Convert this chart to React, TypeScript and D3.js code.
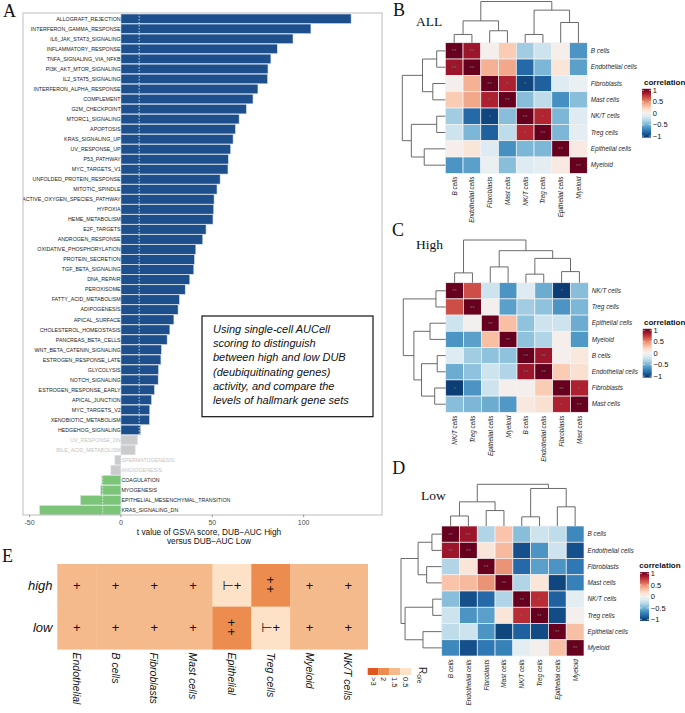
import * as d3 from "d3";
import * as React from "react";

// ---------------- Panel A: GSVA t values ----------------
const upPathways = [
  "ALLOGRAFT_REJECTION", "INTERFERON_GAMMA_RESPONSE", "IL6_JAK_STAT3_SIGNALING", "INFLAMMATORY_RESPONSE",
  "TNFA_SIGNALING_VIA_NFKB", "PI3K_AKT_MTOR_SIGNALING", "IL2_STAT5_SIGNALING", "INTERFERON_ALPHA_RESPONSE",
  "COMPLEMENT", "G2M_CHECKPOINT", "MTORC1_SIGNALING", "APOPTOSIS", "KRAS_SIGNALING_UP", "UV_RESPONSE_UP",
  "P53_PATHWAY", "MYC_TARGETS_V1", "UNFOLDED_PROTEIN_RESPONSE", "MITOTIC_SPINDLE",
  "REACTIVE_OXYGEN_SPECIES_PATHWAY", "HYPOXIA", "HEME_METABOLISM", "E2F_TARGETS", "ANDROGEN_RESPONSE",
  "OXIDATIVE_PHOSPHORYLATION", "PROTEIN_SECRETION", "TGF_BETA_SIGNALING", "DNA_REPAIR", "PEROXISOME",
  "FATTY_ACID_METABOLISM", "ADIPOGENESIS", "APICAL_SURFACE", "CHOLESTEROL_HOMEOSTASIS",
  "PANCREAS_BETA_CELLS", "WNT_BETA_CATENIN_SIGNALING", "ESTROGEN_RESPONSE_LATE", "GLYCOLYSIS",
  "NOTCH_SIGNALING", "ESTROGEN_RESPONSE_EARLY", "APICAL_JUNCTION", "MYC_TARGETS_V2",
  "XENOBIOTIC_METABOLISM", "HEDGEHOG_SIGNALING",
];
const upValues = [
  126, 104, 94.2, 85.6, 82.1, 80.5, 80.3, 75.0, 72.3, 68.7, 64.7, 62.7, 61.4, 60.1, 58.8, 58.6, 54.3,
  52.6, 51.0, 50.8, 50.4, 46.6, 44.8, 41.0, 40.3, 39.9, 37.7, 35.2, 32.1, 31.3, 29.0, 26.8, 25.3, 22.2,
  21.9, 20.6, 20.4, 18.4, 16.8, 15.8, 15.7, 10.8,
];
const nsPathways = ["UV_RESPONSE_DN", "BILE_ACID_METABOLISM", "SPERMATOGENESIS", "ANGIOGENESIS"];
const nsValues = [9.1, 7.8, -3.3, -5.5];
const downPathways = ["COAGULATION", "MYOGENESIS", "EPITHELIAL_MESENCHYMAL_TRANSITION", "KRAS_SIGNALING_DN"];
const downValues = [-10.5, -11.1, -22.2, -44.6];
const xTicksA = [-50, 0, 50, 100];
const cutoffs = [-10, 10];
const noteLines = [
  "Using single-cell AUCell",
  "scoring to distinguish",
  "between high and low DUB",
  "(deubiquitinating genes)",
  "activity, and compare the",
  "levels of hallmark gene sets",
];

// ---------------- Panels B-D: correlation heatmaps ----------------
type Tree = number | { h: number; c: [Tree, Tree] };

const cellsAll = ["B cells", "Endothelial cells", "Fibroblasts", "Mast cells", "NK/T cells", "Treg cells", "Epithelial cells", "Myeloid"];
const corrAll = [
  [1, 0.85, 0.02, 0.25, -0.35, -0.2, 0.03, -0.6],
  [0.85, 1, 0.35, 0.38, -0.78, -0.45, 0.12, -0.55],
  [0.02, 0.35, 1, 0.8, -0.92, -0.82, -0.12, -0.06],
  [0.25, 0.38, 0.8, 1, -0.42, -0.25, -0.62, -0.42],
  [-0.35, -0.78, -0.92, -0.42, 1, 0.78, -0.45, -0.12],
  [-0.2, -0.45, -0.82, -0.25, 0.78, 1, -0.45, -0.1],
  [0.03, 0.12, -0.12, -0.62, -0.45, -0.45, 1, 0.08],
  [-0.6, -0.55, -0.06, -0.42, -0.12, -0.1, 0.08, 1],
];
const starsAll: [number, number, string][] = [[0, 1, "**"], [2, 3, "*"], [2, 4, "*"], [4, 5, "*"]];
const treeAll: Tree = { h: 1, c: [
  { h: 0.53, c: [{ h: 0.2, c: [0, 1] }, { h: 0.29, c: [2, 3] }] },
  { h: 0.79, c: [{ h: 0.2, c: [4, 5] }, { h: 0.49, c: [6, 7] }] },
] };

const cellsHigh = ["NK/T cells", "Treg cells", "Epithelial cells", "Myeloid", "B cells", "Endothelial cells", "Fibroblasts", "Mast cells"];
const corrHigh = [
  [1, 0.65, -0.2, -0.6, -0.12, -0.5, -0.95, -0.42],
  [0.65, 1, 0.0, -0.55, -0.35, -0.4, -0.6, -0.45],
  [-0.2, 0.0, 1, 0.3, -0.4, -0.2, -0.2, -0.5],
  [-0.6, -0.55, 0.3, 1, -0.4, -0.3, 0.03, -0.58],
  [-0.12, -0.35, -0.4, -0.4, 1, 0.85, 0.02, 0.1],
  [-0.5, -0.4, -0.2, -0.3, 0.85, 1, 0.25, 0.15],
  [-0.95, -0.6, -0.2, 0.03, 0.02, 0.25, 1, 0.8],
  [-0.42, -0.45, -0.5, -0.58, 0.1, 0.15, 0.8, 1],
];
const starsHigh: [number, number, string][] = [[0, 6, "*"], [4, 5, "**"], [6, 7, "*"]];
const treeHigh: Tree = { h: 1, c: [
  { h: 0.23, c: [0, 1] },
  { h: 0.75, c: [{ h: 0.37, c: [2, 3] }, { h: 0.57, c: [{ h: 0.2, c: [4, 5] }, { h: 0.26, c: [6, 7] }] }] },
] };

const cellsLow = ["B cells", "Endothelial cells", "Fibroblasts", "Mast cells", "NK/T cells", "Treg cells", "Epithelial cells", "Myeloid"];
const corrLow = [
  [1, 0.85, -0.3, 0.28, -0.42, -0.2, -0.25, -0.65],
  [0.85, 1, 0.12, 0.32, -0.88, -0.6, -0.2, -0.88],
  [-0.3, 0.12, 1, 0.45, -0.78, -0.55, -0.6, -0.72],
  [0.28, 0.32, 0.45, 1, -0.3, 0.12, -0.92, -0.68],
  [-0.42, -0.88, -0.78, -0.3, 1, 0.75, -0.82, -0.1],
  [-0.2, -0.6, -0.55, 0.12, 0.75, 1, -0.9, 0.02],
  [-0.25, -0.2, -0.6, -0.92, -0.82, -0.9, 1, 0.3],
  [-0.65, -0.88, -0.72, -0.68, -0.1, 0.02, 0.3, 1],
];
const starsLow: [number, number, string][] = [[0, 1, "**"], [4, 5, "*"]];
const treeLow: Tree = { h: 1, c: [
  { h: 0.58, c: [{ h: 0.24, c: [0, 1] }, { h: 0.37, c: [2, 3] }] },
  { h: 0.9, c: [{ h: 0.22, c: [4, 5] }, { h: 0.46, c: [6, 7] }] },
] };

const legendTicks = [1, 0.5, 0, -0.5, -1];

// ---------------- Panel E: Ro/e ----------------
const eCellTypes = ["Endothelial", "B cells", "Fibroblasts", "Mast cells", "Epithelial", "Treg cells", "Myeloid", "NK/T cells"];
const eGroups = ["high", "low"];
const roeHigh = ["1.5", "1.5", "1.5", "1.5", "0.5", "2", "1.5", "1.5"];
const roeLow = ["1.5", "1.5", "1.5", "1.5", "2", "0.5", "1.5", "1.5"];
const roeLevels = [">3", "2", "1.5", "0.5"];
const roeColors = ["#e0581d", "#ed8c4f", "#f5ba8c", "#fde2c7"];
const roeMarks: Record<string, string> = { ">3": "+++", "2": "++", "1.5": "+", "0.5": "\u22a2+" };

const SANS = "'Liberation Sans', Arial, Helvetica, sans-serif";
const SERIF = "'Liberation Serif', 'Times New Roman', serif";
const corrColor = (v: number) => d3.interpolateRdBu((1 - v) / 2);
const fmt = (v: number) => (v < 0 ? "\u2212" + Math.abs(v) : String(v));

function PanelA() {
  const names = [...upPathways, ...nsPathways, ...downPathways];
  const values = [...upValues, ...nsValues, ...downValues];
  const groups = [
    ...upPathways.map(() => "up"),
    ...nsPathways.map(() => "ns"),
    ...downPathways.map(() => "down"),
  ];
  const fill: Record<string, string> = { up: "#1c4f8b", ns: "#cbcbcb", down: "#7cc477" };
  const left = 23, right = 382, top = 13, bottom = 515;
  const x = d3.scaleLinear().domain([-53.6, 142.9]).range([left, right]);
  const y = d3.scaleBand<string>().domain(names).range([14, 515]).paddingInner(0.04);
  const x0 = x(0);
  return (
    <g>
      <defs>
        <clipPath id="clipA">
          <rect x={left} y={top} width={right - left} height={bottom - top} />
        </clipPath>
      </defs>
      <g clipPath="url(#clipA)">
        {names.map((n, i) => {
          const v = values[i];
          return (
            <rect key={n} x={Math.min(x(v), x0)} y={y(n)!} width={Math.abs(x(v) - x0)} height={y.bandwidth()}
              fill={fill[groups[i]]} stroke="#dde6f1" strokeWidth={0.6} />
          );
        })}
        {cutoffs.map(c => (
          <line key={c} x1={x(c)} x2={x(c)} y1={top} y2={bottom} stroke="#ffffff" strokeWidth={0.7} strokeDasharray="1.6,1.4" />
        ))}
        {names.map((n, i) => {
          const v = values[i];
          const pos = v >= 0;
          return (
            <text key={n} x={pos ? x0 - 0.3 : x0 + 0.5} y={y(n)! + y.bandwidth() / 2} dy="0.35em"
              textAnchor={pos ? "end" : "start"} fontSize={5.3} fontFamily={SANS}
              fill={groups[i] === "ns" ? "#c4c4c4" : "#1a1a1a"}>{n}</text>
          );
        })}
      </g>
      <rect x={left} y={top} width={right - left} height={bottom - top} fill="none" stroke="#bdbdbd" strokeWidth={1} />
      {xTicksA.map(t => (
        <g key={t}>
          <line x1={x(t)} x2={x(t)} y1={bottom} y2={bottom + 2.2} stroke="#555" strokeWidth={0.6} />
          <text x={x(t)} y={bottom + 9.8} textAnchor="middle" fontSize={7} fontFamily={SANS} fill="#4d4d4d">{t}</text>
        </g>
      ))}
      <text x={209} y={535} textAnchor="middle" fontSize={8.3} fontFamily={SANS} fill="#111">t value of GSVA score, DUB−AUC High</text>
      <text x={209} y={543.5} textAnchor="middle" fontSize={8.3} fontFamily={SANS} fill="#111">versus DUB−AUC Low</text>
      <rect x={202} y={316} width={171} height={100.7} fill="#fff" stroke="#111" strokeWidth={1.2} />
      {noteLines.map((l, i) => (
        <text key={i} x={213} y={333 + i * 14.2} fontSize={11} fontStyle="italic" fontFamily={SANS} fill="#111">{l}</text>
      ))}
      <text x={3} y={16.5} fontSize={18} fontFamily={SERIF} fill="#111">A</text>
    </g>
  );
}

interface HeatProps {
  id: string;
  letter: string; letterPos: [number, number];
  subtitle: string; subtitlePos: [number, number];
  labels: string[]; values: number[][]; stars: [number, number, string][]; tree: Tree;
  x0: number; y0: number; cellW: number; cellH: number;
  colDendroTop: number; rowDendroLeft: number;
  legendX: number; legendTitleX: number;
}

function dendroSegments(tree: Tree, leaf: (i: number) => number) {
  const segs: [number, number, number, number][] = [];
  const walk = (n: Tree): { p: number; h: number } => {
    if (typeof n === "number") return { p: leaf(n), h: 0 };
    const a = walk(n.c[0]);
    const b = walk(n.c[1]);
    segs.push([a.p, a.h, a.p, n.h], [b.p, b.h, b.p, n.h], [a.p, n.h, b.p, n.h]);
    return { p: (a.p + b.p) / 2, h: n.h };
  };
  walk(tree);
  return segs;
}

function HeatPanel(p: HeatProps) {
  const n = p.labels.length;
  const idx = d3.range(n);
  const xb = d3.scaleBand<number>().domain(idx).range([p.x0, p.x0 + n * p.cellW]);
  const yb = d3.scaleBand<number>().domain(idx).range([p.y0, p.y0 + n * p.cellH]);
  const right = p.x0 + n * p.cellW;
  const bottom = p.y0 + n * p.cellH;
  const colH = d3.scaleLinear().domain([0, 1]).range([p.y0, p.colDendroTop]);
  const rowH = d3.scaleLinear().domain([0, 1]).range([p.x0, p.rowDendroLeft]);
  const colSegs = dendroSegments(p.tree, i => xb(i)! + xb.bandwidth() / 2);
  const rowSegs = dendroSegments(p.tree, i => yb(i)! + yb.bandwidth() / 2);
  const starMap = new Map<string, string>();
  p.stars.forEach(([a, b, s]) => { starMap.set(a + "-" + b, s); starMap.set(b + "-" + a, s); });
  idx.forEach(i => starMap.set(i + "-" + i, "**"));
  const ly = d3.scaleLinear().domain([1, -1]).range([p.y0 + 47.6, p.y0 + 93.4]);
  const gradStops = d3.range(0, 1.0001, 0.05);
  const barW = 9;
  return (
    <g>
      <defs>
        <linearGradient id={"grad" + p.id} x1="0" y1="0" x2="0" y2="1">
          {gradStops.map(t => <stop key={t} offset={t} stopColor={corrColor(1 - 2 * t)} />)}
        </linearGradient>
      </defs>
      <text x={p.letterPos[0]} y={p.letterPos[1]} fontSize={18} fontFamily={SERIF} fill="#111">{p.letter}</text>
      <text x={p.subtitlePos[0]} y={p.subtitlePos[1]} fontSize={13.5} fontFamily={SERIF} fill="#111">{p.subtitle}</text>
      {p.values.map((row, r) => row.map((v, c) => (
        <rect key={r + "-" + c} x={xb(c)!} y={yb(r)!} width={xb.bandwidth()} height={yb.bandwidth()}
          fill={corrColor(v)} stroke="#f3f3f3" strokeWidth={0.7} />
      )))}
      {p.values.map((row, r) => row.map((_, c) => {
        const s = starMap.get(r + "-" + c);
        return s ? (
          <text key={"s" + r + "-" + c} x={xb(c)! + xb.bandwidth() / 2} y={yb(r)! + yb.bandwidth() / 2 + 2.6}
            textAnchor="middle" fontSize={6} fontFamily={SANS} fill="#6b6b6b">{s}</text>
        ) : null;
      }))}
      <path d={colSegs.map(([p1, h1, p2, h2]) => `M${p1},${colH(h1)}L${p2},${colH(h2)}`).join("")}
        fill="none" stroke="#5a5a5a" strokeWidth={0.9} />
      <path d={rowSegs.map(([p1, h1, p2, h2]) => `M${rowH(h1)},${p1}L${rowH(h2)},${p2}`).join("")}
        fill="none" stroke="#5a5a5a" strokeWidth={0.9} />
      {p.labels.map((l, i) => (
        <text key={"r" + l} x={right + 3.4} y={yb(i)! + yb.bandwidth() / 2} dy="0.35em" fontSize={6.4}
          fontStyle="italic" fontFamily={SANS} fill="#262626">{l}</text>
      ))}
      {p.labels.map((l, i) => {
        const cx = xb(i)! + xb.bandwidth() / 2;
        const cy = bottom + 3.3;
        return (
          <text key={"c" + l} transform={`translate(${cx},${cy}) rotate(-90)`} textAnchor="end"
            dominantBaseline="central" fontSize={6.4} fontStyle="italic" fontFamily={SANS} fill="#262626">{l}</text>
        );
      })}
      <text x={p.legendTitleX} y={p.y0 + 42.2} fontSize={8} fontWeight="bold" fontFamily={SANS} fill="#111">correlation</text>
      <rect x={p.legendX} y={ly(1) - 1.5} width={barW} height={ly(-1) - ly(1) + 3} fill={`url(#grad${p.id})`} />
      {legendTicks.map(t => (
        <g key={t}>
          <line x1={p.legendX} x2={p.legendX + 2} y1={ly(t)} y2={ly(t)} stroke="#fff" strokeWidth={0.6} />
          <line x1={p.legendX + barW - 2} x2={p.legendX + barW} y1={ly(t)} y2={ly(t)} stroke="#fff" strokeWidth={0.6} />
          <text x={p.legendX + barW + 1.8} y={ly(t)} dy="0.35em" fontSize={7.5} fontFamily={SANS} fill="#111">{fmt(t)}</text>
        </g>
      ))}
    </g>
  );
}

function PanelE() {
  const xb = d3.scaleBand<string>().domain(eCellTypes).range([57.3, 367.7]);
  const yb = d3.scaleBand<string>().domain(eGroups).range([564, 649.3]);
  const color = d3.scaleOrdinal<string, string>().domain(roeLevels).range(roeColors);
  const rows: Record<string, string[]> = { high: roeHigh, low: roeLow };
  const lx = d3.scaleBand<string>().domain(roeLevels).range([367.7, 411]);
  return (
    <g>
      <text x={2} y={562} fontSize={18} fontFamily={SERIF} fill="#111">E</text>
      {eGroups.map(g => eCellTypes.map((c, i) => (
        <rect key={g + c} x={xb(c)!} y={yb(g)!} width={xb.bandwidth() + 0.3} height={yb.bandwidth() + 0.3}
          fill={color(rows[g][i])} />
      )))}
      {eGroups.map(g => eCellTypes.map((c, i) => {
        const mark = roeMarks[rows[g][i]];
        const cx = xb(c)! + xb.bandwidth() / 2;
        const cy = yb(g)! + yb.bandwidth() / 2;
        const stacked = /^\++$/.test(mark) && mark.length > 1;
        return stacked ? (
          // several "+" stacked vertically in one text run
          <text key={g + c} x={cx} y={cy} textAnchor="middle" fontSize={13} letterSpacing={1.7}
            style={{ writingMode: "vertical-rl" }} fontFamily={SANS} fill="#111">{mark}</text>
        ) : (
          <text key={g + c} x={cx} y={cy + 4.3} textAnchor="middle" fontSize={13}
            fontFamily={SANS + ", 'DejaVu Sans'"} fill="#111">{mark}</text>
        );
      }))}
      {eGroups.map(g => (
        <text key={g} x={52.5} y={yb(g)! + yb.bandwidth() / 2} dy="0.33em" textAnchor="end" fontSize={13}
          fontStyle="italic" fontFamily={SANS} fill="#111">{g}</text>
      ))}
      {eCellTypes.map(c => (
        <text key={c} transform={`translate(${xb(c)! + xb.bandwidth() / 2},${652.5}) rotate(90)`}
          dominantBaseline="central" fontSize={10.5} fontStyle="italic" fontFamily={SANS} fill="#111">{c}</text>
      ))}
      {roeLevels.map(l => (
        <g key={l}>
          <rect x={lx(l)!} y={668} width={lx.bandwidth()} height={7} fill={color(l)} />
          <text transform={`translate(${lx(l)! + lx.bandwidth() / 2},${677}) rotate(90)`} dominantBaseline="central"
            fontSize={7.5} fontFamily={SANS} fill="#222">{l}</text>
        </g>
      ))}
      <text transform="translate(419,667) rotate(90)" fontSize={10} fontFamily={SANS} fill="#222">
        R<tspan fontSize={6.5} dy={2}>o/e</tspan>
      </text>
    </g>
  );
}

export default function App() {
  return (
    <svg width={685} height={713} viewBox="0 0 685 713"
      style={{ position: "absolute", left: 0, top: 0, background: "#fff" }}>
      <rect width={685} height={713} fill="#fff" />
      <PanelA />
      <HeatPanel id="B" letter="B" letterPos={[393, 15.5]} subtitle="ALL" subtitlePos={[416, 26]}
        labels={cellsAll} values={corrAll} stars={starsAll} tree={treeAll}
        x0={445.3} y0={42.7} cellW={17.75} cellH={16.33} colDendroTop={1.5} rowDendroLeft={402.3}
        legendX={642} legendTitleX={644} />
      <HeatPanel id="C" letter="C" letterPos={[392, 236]} subtitle="High" subtitlePos={[416, 249]}
        labels={cellsHigh} values={corrHigh} stars={starsHigh} tree={treeHigh}
        x0={445.7} y0={282.7} cellW={17.83} cellH={16.2} colDendroTop={240} rowDendroLeft={403.3}
        legendX={642.7} legendTitleX={644} />
      <HeatPanel id="D" letter="D" letterPos={[392.3, 474]} subtitle="Low" subtitlePos={[421, 500]}
        labels={cellsLow} values={corrLow} stars={starsLow} tree={treeLow}
        x0={441.7} y0={526} cellW={17.79} cellH={16.25} colDendroTop={484.3} rowDendroLeft={401}
        legendX={640} legendTitleX={639.3} />
      <PanelE />
    </svg>
  );
}
